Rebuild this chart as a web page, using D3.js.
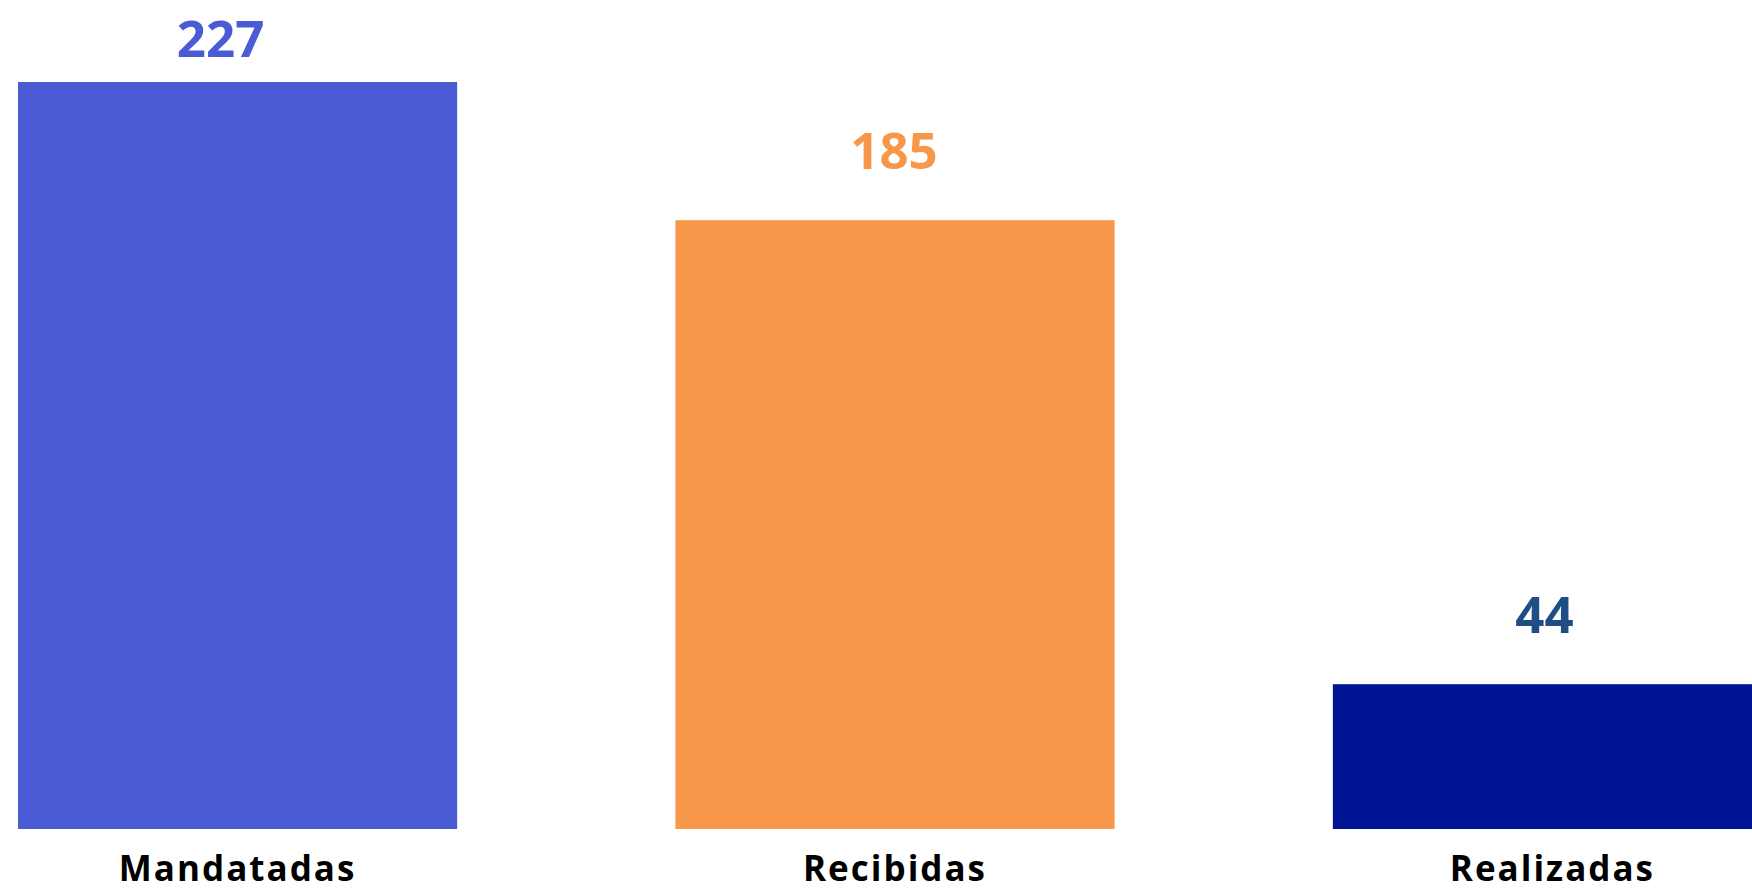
<!DOCTYPE html>
<html><head><meta charset="utf-8">
<script src="https://cdn.jsdelivr.net/npm/d3@7"></script>
<style>html,body{margin:0;padding:0;background:#fff;overflow:hidden}</style>
</head><body>
<svg id="c" width="1752" height="891"></svg>
<script>
const categories = ["Mandatadas", "Recibidas", "Realizadas"];
const values = [227, 185, 44];
const barColors = ["#4a5bd4", "#f6974a", "#001496"];
const labelColors = ["#4a5bd4", "#f6974a", "#1f4e85"];

const svg = d3.select("#c");
const x = d3.scaleBand().domain(categories).range([18, 1772]).paddingInner(0.332).paddingOuter(0);
const y = d3.scaleLinear().domain([0, 227]).range([829, 82]);
const font = "'Open Sans', sans-serif";
const labelShift = [-17, -1, -8];

svg.selectAll("rect.bar").data(values).join("rect")
  .attr("class", "bar")
  .attr("x", (d, i) => x(categories[i]))
  .attr("width", x.bandwidth())
  .attr("y", d => y(d))
  .attr("height", d => y(0) - y(d))
  .attr("fill", (d, i) => barColors[i]);

svg.selectAll("text.val").data(values).join("text")
  .attr("class", "val")
  .attr("x", (d, i) => x(categories[i]) + x.bandwidth() / 2 + labelShift[i])
  .attr("y", d => Math.max(y(d) - 51, 57))
  .attr("text-anchor", "middle")
  .attr("font-family", font)
  .attr("font-weight", 700)
  .attr("font-size", 51)
  .attr("fill", (d, i) => labelColors[i])
  .text(d => d);

const xAxis = svg.append("g").attr("transform", `translate(0,${y(0)})`)
  .call(d3.axisBottom(x).tickSize(0).tickPadding(52));
xAxis.select(".domain").remove();
xAxis.selectAll("text")
  .attr("font-family", font)
  .attr("font-weight", 700)
  .attr("font-size", 35)
  .attr("letter-spacing", "2px")
  .attr("fill", "#000")
  .attr("dy", 0);
</script>
</body></html>
